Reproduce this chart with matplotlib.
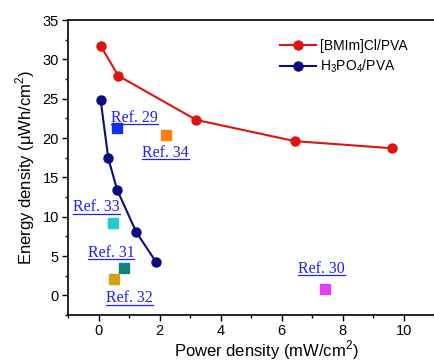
import matplotlib
matplotlib.use('Agg')
import matplotlib.pyplot as plt
from matplotlib.ticker import MultipleLocator, FixedLocator

plt.rcParams['font.family'] = ['Liberation Sans', 'DejaVu Sans']
plt.rcParams['mathtext.fontset'] = 'custom'
plt.rcParams['mathtext.rm'] = 'Liberation Sans'

# данные
bmim_x = [0.07, 0.65, 3.2, 6.43, 9.6]
bmim_y = [31.7, 27.9, 22.3, 19.6, 18.7]
h3po4_x = [0.07, 0.32, 0.61, 1.24, 1.89]
h3po4_y = [24.8, 17.4, 13.4, 8.0, 4.2]

ref_names = ['Ref. 29', 'Ref. 34', 'Ref. 33', 'Ref. 31', 'Ref. 32', 'Ref. 30']
ref_x = [0.61, 2.2, 0.48, 0.84, 0.5, 7.42]
ref_y = [21.3, 20.4, 9.2, 3.5, 2.1, 0.8]
ref_colors = ['#1030f0', '#ff8010', '#22cccc', '#118080', '#d4a010', '#e040f0']
# положение подписей
label_x = [1.18, 2.2, -0.07, 0.41, 1.02, 7.3]
label_y = [22.6, 18.1, 11.2, 5.4, -0.4, 3.4]

x_major = [0, 2, 4, 6, 8, 10]

fig = plt.figure(figsize=(4.34, 3.62), dpi=100)
ax = fig.add_axes([68 / 434, 1 - 315 / 362, (465 - 68) / 434, (315 - 20) / 362])

ax.plot(bmim_x, bmim_y, '-o', color='#dc1414', lw=1.5, ms=6.5, label='[BMIm]Cl/PVA')
ax.plot(h3po4_x, h3po4_y, '-o', color='#0c0c80', lw=1.5, ms=6.5, label='H$_3$PO$_4$/PVA')

for x, y, c in zip(ref_x, ref_y, ref_colors):
    ax.plot(x, y, 's', color=c, ms=7.5)

texts = []
for name, x, y in zip(ref_names, label_x, label_y):
    t = ax.text(x, y, name, family='Liberation Serif', fontsize=11.5, color='#2020f0',
                ha='center', va='center')
    texts.append(t)

ax.set_xlim(-1, 12)
ax.set_ylim(-2.5, 35)
ax.xaxis.set_major_locator(FixedLocator(x_major))
ax.xaxis.set_minor_locator(MultipleLocator(1))
ax.yaxis.set_major_locator(MultipleLocator(5))
ax.yaxis.set_minor_locator(MultipleLocator(2.5))
ax.tick_params(which='major', direction='out', length=4, width=1, labelsize=10.5, pad=2.5)
ax.tick_params(which='minor', direction='out', length=2.5, width=1)
for s in ax.spines.values():
    s.set_linewidth(1.2)

ax.set_xlabel('Power density (mW/cm$^2$)', fontsize=12, labelpad=0)
ax.set_ylabel('Energy density (μWh/cm$^2$)', fontsize=12, labelpad=4)

ax.legend(loc='upper left', bbox_to_anchor=(0.52, 0.955), frameon=False, fontsize=10,
          handlelength=2.6, handletextpad=0.3, labelspacing=0.35, borderaxespad=0)

# подчёркивание подписей
fig.canvas.draw()
renderer = fig.canvas.get_renderer()
inv = ax.transData.inverted()
for t in texts:
    bb = t.get_window_extent(renderer)
    p0 = inv.transform((bb.x0, bb.y0 + 1.5))
    p1 = inv.transform((bb.x1, bb.y0 + 1.5))
    ax.plot([p0[0], p1[0]], [p0[1], p1[1]], color='#2020f0', lw=0.9)

fig.savefig('out.png', dpi=100)
